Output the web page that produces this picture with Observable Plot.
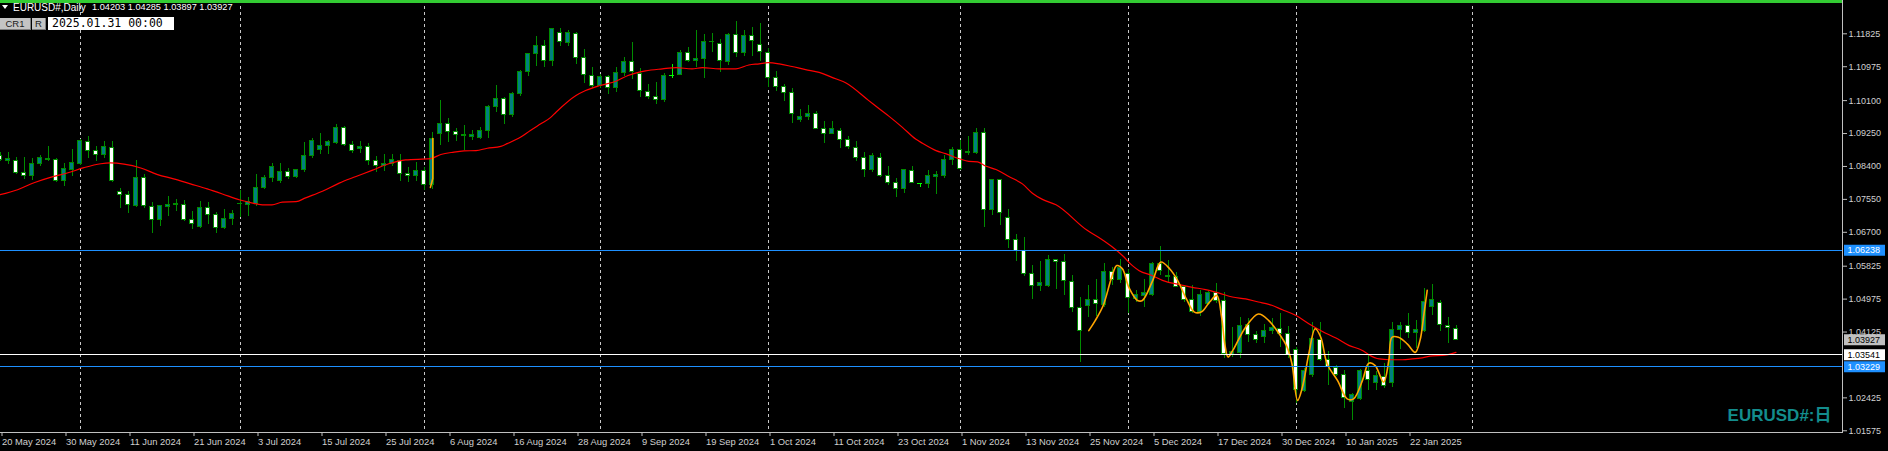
<!DOCTYPE html>
<html><head><meta charset="utf-8">
<script src="https://cdn.jsdelivr.net/npm/d3@7"></script>
<script src="https://cdn.jsdelivr.net/npm/@observablehq/plot@0.6"></script>
<style>
html,body{margin:0;padding:0;background:#000;overflow:hidden}
#wrap{position:relative;width:1888px;height:451px;font-family:'Liberation Sans',Arial,sans-serif}
#wrap svg{display:block}
.ov{position:absolute;white-space:nowrap;line-height:1}
</style></head><body>
<div id="wrap"></div>
<script>
// ---- data ----
const opens=[1.0868,1.0855,1.0855,1.0824,1.0815,1.0846,1.0856,1.0857,1.0803,1.0830,
1.0846,1.0904,1.0880,1.0869,1.0888,1.0774,1.0767,1.0739,1.0811,1.0736,
1.0702,1.0735,1.0741,1.0741,1.0702,1.0683,1.0733,1.0715,1.0680,1.0704,
1.0742,1.0740,1.0744,1.0784,1.0810,1.0802,1.0826,1.0812,1.0830,1.0866,
1.0882,1.0892,1.0901,1.0940,1.0896,1.0885,1.0891,1.0855,1.0841,1.0847,
1.0854,1.0821,1.0815,1.0827,1.0793,1.0924,1.0950,1.0928,1.0919,1.0916,
1.0913,1.0932,1.0993,1.1013,1.0972,1.1027,1.1083,1.1130,1.1150,1.1112,
1.1185,1.1159,1.1183,1.1121,1.1074,1.1047,1.1070,1.1042,1.1082,1.1110,
1.1079,1.1033,1.1020,1.1012,1.1074,1.1077,1.1133,1.1112,1.1118,1.1162,
1.1157,1.1109,1.1180,1.1133,1.1177,1.1154,1.1133,1.1069,1.1046,1.1030,
1.0959,1.0967,1.0976,1.0937,1.0924,1.0932,1.0909,1.0888,1.0862,1.0831,
1.0862,1.0816,1.0798,1.0781,1.0829,1.0795,1.0795,1.0814,1.0816,1.0857,
1.0883,1.0874,1.0874,1.0927,1.0728,1.0806,1.0707,1.0651,1.0623,1.0563,
1.0532,1.0532,1.0599,1.0593,1.0541,1.0475,1.0480,1.0496,1.0482,1.0568,
1.0547,1.0563,1.0497,1.0505,1.0509,1.0587,1.0554,1.0554,1.0530,1.0494,
1.0465,1.0486,1.0512,1.0492,1.0352,1.0358,1.0431,1.0405,1.0399,1.0416,
1.0421,1.0408,1.0367,1.0260,1.0302,1.0393,1.0341,1.0320,1.0302,1.0232,
1.0240,1.0311,1.0280,1.0296,1.0280,1.0418,1.0427,1.0411,1.0415,1.0478,
1.0488,1.0429,1.04203];
const highs=[1.0876,1.0875,1.0864,1.0863,1.0861,1.0868,1.0892,1.0860,1.0848,1.0884,
1.0909,1.0917,1.0892,1.0905,1.0904,1.0782,1.0775,1.0855,1.0819,1.0746,
1.0739,1.0763,1.0755,1.0751,1.0724,1.0749,1.0746,1.0722,1.0729,1.0726,
1.0778,1.0759,1.0819,1.0817,1.0847,1.0847,1.0835,1.0833,1.0902,1.0912,
1.0925,1.0908,1.0948,1.0944,1.0904,1.0904,1.0899,1.0867,1.0871,1.0871,
1.0871,1.0837,1.0850,1.0837,1.0928,1.1010,1.0963,1.0937,1.0946,1.0933,
1.0940,1.0998,1.1049,1.1017,1.1030,1.1087,1.1132,1.1176,1.1165,1.1197,
1.1197,1.1191,1.1185,1.1142,1.1096,1.1077,1.1075,1.1096,1.1121,1.1159,
1.1092,1.1052,1.1057,1.1079,1.1103,1.1139,1.1147,1.1191,1.1181,1.1183,
1.1169,1.1184,1.1214,1.1191,1.1199,1.1209,1.1144,1.1085,1.1052,1.1041,
1.0987,1.0997,1.0982,1.0955,1.0955,1.0938,1.0917,1.0904,1.0875,1.0873,
1.0873,1.0840,1.0808,1.0831,1.0840,1.0795,1.0830,1.0827,1.0868,1.0889,
1.0907,1.0917,1.0938,1.0938,1.0807,1.0807,1.0729,1.0664,1.0657,1.0584,
1.0595,1.0610,1.0601,1.0613,1.0558,1.0501,1.0533,1.0547,1.0589,1.0580,
1.0599,1.0573,1.0520,1.0547,1.0591,1.0633,1.0597,1.0565,1.0533,1.0532,
1.0520,1.0518,1.0539,1.0515,1.0423,1.0449,1.0447,1.0414,1.0432,1.0447,
1.0460,1.0427,1.0373,1.0318,1.0438,1.0438,1.0361,1.0326,1.0313,1.0255,
1.0316,1.0352,1.0311,1.0332,1.0438,1.0438,1.0461,1.0442,1.0524,1.0535,
1.0494,1.0451,1.04285];
const lows=[1.0853,1.0844,1.0819,1.0806,1.0804,1.0841,1.0853,1.0799,1.0789,1.0813,
1.0843,1.0860,1.0853,1.0860,1.0799,1.0732,1.0719,1.0735,1.0732,1.0668,
1.0686,1.0711,1.0724,1.0699,1.0677,1.0679,1.0691,1.0668,1.0677,1.0688,
1.0709,1.0711,1.0737,1.0781,1.0799,1.0797,1.0807,1.0808,1.0824,1.0861,
1.0872,1.0872,1.0896,1.0892,1.0874,1.0873,1.0843,1.0825,1.0828,1.0840,
1.0802,1.0799,1.0802,1.0778,1.0781,1.0894,1.0903,1.0905,1.0881,1.0907,
1.0909,1.0913,1.0980,1.0948,1.0967,1.1021,1.1071,1.1098,1.1096,1.1099,
1.1150,1.1150,1.1103,1.1055,1.1042,1.1041,1.1026,1.1032,1.1073,1.1065,
1.1017,1.1014,1.1001,1.1006,1.1066,1.1074,1.1108,1.1095,1.1068,1.1135,
1.1083,1.1101,1.1122,1.1125,1.1125,1.1112,1.1045,1.1034,1.1008,1.0952,
1.0954,1.0959,1.0935,1.0900,1.0923,1.0887,1.0883,1.0854,1.0812,1.0825,
1.0812,1.0792,1.0761,1.0771,1.0795,1.0785,1.0782,1.0768,1.0808,1.0843,
1.0830,1.0868,1.0871,1.0683,1.0713,1.0688,1.0629,1.0595,1.0557,1.0497,
1.0517,1.0528,1.0522,1.0507,1.0464,1.0333,1.0451,1.0453,1.0477,1.0533,
1.0537,1.0460,1.0490,1.0475,1.0505,1.0558,1.0537,1.0527,1.0490,1.0461,
1.0453,1.0481,1.0487,1.0345,1.0346,1.0345,1.0386,1.0384,1.0384,1.0406,
1.0373,1.0343,1.0227,1.0257,1.0296,1.0337,1.0274,1.0298,1.0214,1.0184,
1.0236,1.0262,1.0262,1.0266,1.0270,1.0367,1.0395,1.0369,1.0411,1.0455,
1.0415,1.0384,1.03897];
const closes=[1.0857,1.0859,1.0824,1.0816,1.0847,1.0861,1.0858,1.0803,1.0834,1.0850,
1.0907,1.0879,1.0869,1.0889,1.0803,1.0767,1.0741,1.0811,1.0739,1.0702,
1.0737,1.0741,1.0742,1.0702,1.0691,1.0733,1.0715,1.0682,1.0705,1.0716,
1.0743,1.0749,1.0785,1.0811,1.0839,1.0826,1.0813,1.0831,1.0867,1.0907,
1.0893,1.0902,1.0940,1.0896,1.0880,1.0891,1.0854,1.0841,1.0847,1.0857,
1.0821,1.0816,1.0827,1.0793,1.0911,1.0950,1.0928,1.0922,1.0920,1.0922,
1.0932,1.0993,1.1013,1.0973,1.1028,1.1085,1.1131,1.1150,1.1112,1.1194,
1.1161,1.1185,1.1120,1.1077,1.1047,1.1070,1.1043,1.1082,1.1110,1.1083,
1.1035,1.1020,1.1012,1.1074,1.1074,1.1134,1.1113,1.1118,1.1162,1.1161,
1.1113,1.1180,1.1133,1.1177,1.1163,1.1135,1.1069,1.1046,1.1029,1.0976,
1.0968,1.0976,1.0937,1.0924,1.0937,1.0909,1.0891,1.0862,1.0831,1.0867,
1.0816,1.0798,1.0782,1.0830,1.0798,1.0795,1.0815,1.0818,1.0857,1.0883,
1.0833,1.0878,1.0927,1.0728,1.0806,1.0720,1.0651,1.0623,1.0563,1.0532,
1.0540,1.0599,1.0594,1.0544,1.0475,1.0416,1.0496,1.0486,1.0568,1.0547,
1.0578,1.0501,1.0507,1.0512,1.0587,1.0569,1.0556,1.0530,1.0494,1.0465,
1.0507,1.0512,1.0492,1.0355,1.0361,1.0428,1.0405,1.0393,1.0416,1.0423,
1.0408,1.0352,1.0263,1.0311,1.0394,1.0341,1.0322,1.0302,1.0243,1.0250,
1.0311,1.0289,1.0299,1.0272,1.0418,1.0427,1.0411,1.0418,1.0489,1.0494,
1.0431,1.0424,1.03927];

const xTickIdx=[0,8,16,24,32,40,48,56,64,72,80,88,96,104,112,120,128,136,144,152,160,168,176];
const xTickLabels=["20 May 2024","30 May 2024","11 Jun 2024","21 Jun 2024","3 Jul 2024","15 Jul 2024","25 Jul 2024","6 Aug 2024","16 Aug 2024","28 Aug 2024","9 Sep 2024","19 Sep 2024","1 Oct 2024","11 Oct 2024","23 Oct 2024","1 Nov 2024","13 Nov 2024","25 Nov 2024","5 Dec 2024","17 Dec 2024","30 Dec 2024","10 Jan 2025","22 Jan 2025"];
const yTicks=[1.11825,1.10975,1.10100,1.09250,1.08400,1.07550,1.06700,1.05825,1.04975,1.04125,1.02425,1.01575];
const monthStartIdx=[10,30,53,75,96,120,141,162,184];

const maIdx=[0,2.2,4.25,6.3,8.4,10.5,12.6,13.8,15.5,17.6,19.7,21.7,23.8,25.9,27.8,29.9,31.1,32.8,34,35.3,37,38.2,40.3,42.4,44.5,46.5,48.6,50.7,53.8,55.1,56.75,58,59.5,60.9,62.6,63.4,65.1,66.3,67.6,68.8,69.5,72,73.2,75,77,78.5,80.7,82.8,84.5,86.5,87.8,89.9,92,93.6,94.9,96,97.4,99,100.7,102.4,104,105.7,108.6,109.9,111.1,112.8,114.5,115.3,117,118.2,119.9,121.1,122.2,123.2,124.5,126.1,127.8,129.05,130.3,132,135.9,137.4,139.05,140.3,141.55,142.4,144.05,145.3,147.4,149.05,150.7,152.4,154.05,155.7,157.3,158.6,160.3,162,163.6,165.3,167,168.6,170.3,171.1,172.4,173.6,175.3,176.55,177.8,179.05,180.3,182];
const maVal=[1.0767,1.0780,1.0798,1.0812,1.0823,1.0837,1.0847,1.0849,1.0846,1.0836,1.0819,1.0808,1.0795,1.0782,1.0769,1.0754,1.0748,1.0741,1.0741,1.0748,1.0749,1.0759,1.0776,1.0797,1.0814,1.0830,1.0847,1.0857,1.0860,1.0871,1.0877,1.0880,1.0881,1.0887,1.0892,1.0899,1.0916,1.0933,1.0950,1.0966,1.0980,1.1023,1.1036,1.1049,1.1060,1.1075,1.1087,1.1092,1.1095,1.1092,1.1095,1.1092,1.1092,1.1102,1.1105,1.1108,1.1105,1.1098,1.1090,1.1083,1.1070,1.1056,1.1010,1.0989,1.0970,1.0941,1.0910,1.0900,1.0881,1.0873,1.0860,1.0853,1.0852,1.0841,1.0832,1.0814,1.0795,1.0771,1.0755,1.0741,1.0675,1.0656,1.0632,1.0610,1.0584,1.0571,1.0558,1.0546,1.0535,1.0528,1.0522,1.0513,1.0503,1.0498,1.0490,1.0484,1.0470,1.0455,1.0434,1.0414,1.0397,1.0378,1.0365,1.0354,1.0343,1.0341,1.0341,1.0343,1.0346,1.0351,1.0352,1.0360];

const orIdx=[136.1,136.9,137.9,138.96,139.6,140.3,141.1,142.2,142.8,144.1,145.1,146.2,147.2,148.3,149.3,150.2,151.2,152.1,152.7,153.1,153.5,154.1,155.7,157.3,158.6,159.9,160.9,161.5,162.2,162.8,163.6,164.4,165.1,165.9,167.2,168.4,169.2,170.3,171.1,171.9,172.95,173.6,174.0,174.8,175.9,176.9,177.5,178.0,178.4];
const orVal=[1.0416,1.0442,1.0481,1.0554,1.0584,1.0576,1.0528,1.0494,1.0494,1.0546,1.0593,1.0576,1.0546,1.0498,1.0464,1.0465,1.0490,1.0507,1.0451,1.0382,1.0348,1.0365,1.0425,1.0459,1.0442,1.0408,1.0373,1.0330,1.0236,1.0270,1.0356,1.0421,1.0399,1.0330,1.0287,1.0240,1.0240,1.0287,1.0332,1.0326,1.0283,1.0339,1.0399,1.0399,1.0382,1.0360,1.0391,1.0460,1.0520];
const orSegIdx=[53.8,54.0,54.1,54.1];
const orSegVal=[1.0786,1.0801,1.0809,1.0912];

const blueLevels=[1.06238,1.03229];
const whiteLevels=[1.03541];
const tagValues=[1.06238,1.03927,1.03541,1.03229];
const tagBg=["#1e90ff","#c0c0c0","#ffffff","#1e90ff"];
const tagFg=["#ffffff","#000000","#000000","#ffffff"];

// ---- styles ----
const GREEN="#008c00", LIME="#00ff00", TEAL="#008080";

const candles=opens.map((o,i)=>({i,o,h:highs[i],l:lows[i],c:closes[i]}));
const ma=maIdx.map((x,k)=>({x,v:maVal[k]}));
const orl=orIdx.map((x,k)=>({x,v:orVal[k]}));
const orSeg=orSegIdx.map((x,k)=>({x,v:orSegVal[k]}));
const tags=tagValues.map((v,k)=>({v,bg:tagBg[k],fg:tagFg[k]}));
const isDoji=d=>d.o===d.c;

const chart=Plot.plot({
  width:1888,height:451,
  marginLeft:0,marginRight:46,marginTop:0,marginBottom:19,
  style:{background:"#000",color:"#c8c8c8",fontFamily:"'Liberation Sans',Arial,sans-serif",fontSize:"9px"},
  x:{domain:[0.0625,230.3125],label:null},
  y:{domain:[1.01531,1.12685],label:null},
  color:{type:"identity"},
  marks:[
    Plot.ruleX(monthStartIdx,{x:d=>d,stroke:"#c8c8c8",strokeDasharray:"3,3",shapeRendering:"crispEdges"}),
    // wicks
    Plot.ruleX(candles,{filter:d=>!isDoji(d),x:"i",y1:"l",y2:"h",stroke:GREEN,shapeRendering:"crispEdges"}),
    Plot.ruleX(candles,{filter:isDoji,x:"i",y1:"l",y2:"h",stroke:LIME,shapeRendering:"crispEdges"}),
    // bodies
    Plot.rect(candles,{filter:d=>!isDoji(d),x1:d=>d.i-0.25,x2:d=>d.i+0.25,
      y1:d=>Math.min(d.o,d.c),y2:d=>Math.max(d.o,d.c),
      fill:d=>d.c>d.o?TEAL:"#ffffff",stroke:GREEN,strokeWidth:1,shapeRendering:"crispEdges"}),
    Plot.ruleY(candles,{filter:isDoji,y:"o",x1:d=>d.i-0.3125,x2:d=>d.i+0.3125,stroke:LIME,shapeRendering:"crispEdges"}),
    // indicators
    Plot.line(ma,{x:"x",y:"v",stroke:"#ff0000",strokeWidth:1.2,curve:"monotone-x"}),
    Plot.line(orl,{x:"x",y:"v",stroke:"#ffa500",strokeWidth:1.6,curve:"catmull-rom"}),
    Plot.line(orSeg,{x:"x",y:"v",stroke:"#ffa500",strokeWidth:1.6}),
    // horizontal levels
    Plot.ruleY(blueLevels,{stroke:"#1e90ff",shapeRendering:"crispEdges"}),
    Plot.ruleY(whiteLevels,{stroke:"#ffffff",shapeRendering:"crispEdges"}),
    // axes
    Plot.frame({anchor:"right",stroke:"#c0c0c0",shapeRendering:"crispEdges"}),
    Plot.frame({anchor:"bottom",stroke:"#c0c0c0",shapeRendering:"crispEdges"}),
    Plot.axisY({ticks:yTicks,anchor:"right",tickSize:4,tickPadding:2,tickFormat:d=>d.toFixed(5),label:null,fontSize:9,fill:"#d0d0d0",stroke:"#c0c0c0"}),
    Plot.axisX({ticks:xTickIdx,anchor:"bottom",tickSize:4,tickPadding:2,tickFormat:d=>xTickLabels[xTickIdx.indexOf(d)],textAnchor:"start",dx:2,label:null,fontSize:9.4,fill:"#d0d0d0",stroke:"#c0c0c0"}),
    // price tags
    Plot.ruleY(tags,{y:"v",stroke:"bg",strokeWidth:11,insetLeft:1844,insetRight:-43}),
    Plot.text(tags,{y:"v",text:d=>d.v.toFixed(5),fill:"fg",frameAnchor:"right",dx:5,textAnchor:"start",fontSize:9}),
    // symbol watermark
    Plot.text(["EURUSD#:日"],{text:d=>d,frameAnchor:"bottom-right",dx:-11,dy:-12,textAnchor:"end",lineAnchor:"bottom",
      fill:"#138d8d",fontSize:17,fontWeight:"bold",fontFamily:"'Liberation Sans','Noto Sans CJK SC',sans-serif"})
  ]
});
const wrap=document.getElementById("wrap");
wrap.appendChild(chart);

// header overlay
const hdr=`
<div class="ov" style="left:0;top:0;width:1842px;height:3px;background:#33cc33"></div>
<div class="ov" style="left:2px;top:5px;width:0;height:0;border-left:3px solid transparent;border-right:3px solid transparent;border-top:4px solid #fff"></div>
<div class="ov" style="left:13px;top:3px;font-size:10px;color:#fff">EURUSD#,Daily</div>
<div class="ov" style="left:92px;top:3px;font-size:9.2px;color:#fff">1.04203 1.04285 1.03897 1.03927</div>
<div class="ov" style="left:0;top:18px;width:31px;height:12px;background:#c4c4c4;border-right:1px solid #808080;border-bottom:1px solid #808080;box-sizing:border-box;color:#202020;font-size:9.5px;text-align:center;line-height:12px">CR1</div>
<div class="ov" style="left:32px;top:18px;width:14px;height:12px;background:#c4c4c4;border-right:1px solid #808080;border-bottom:1px solid #808080;box-sizing:border-box;color:#202020;font-size:9.5px;text-align:center;line-height:12px">R</div>
<div class="ov" style="left:48px;top:17px;width:126px;height:13px;background:#fff;color:#000;font-family:'DejaVu Sans Mono',monospace;font-size:11.5px;line-height:13px;padding-left:4px;box-sizing:border-box">2025.01.31 00:00</div>`;
wrap.insertAdjacentHTML("beforeend",hdr);
</script>
</body></html>
